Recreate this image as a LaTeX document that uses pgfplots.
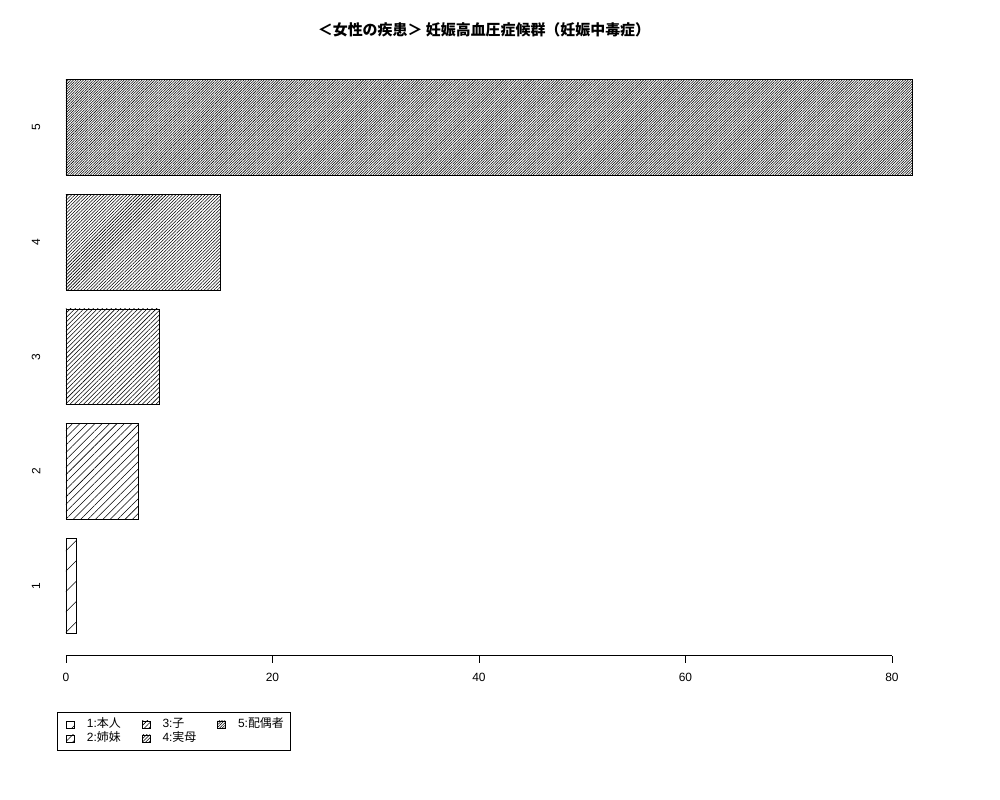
\documentclass[border=0pt]{standalone}
\usepackage{fontspec}
\setmainfont{Liberation Sans}
\newfontfamily\cjk{Noto Sans CJK JP}
\usepackage{pgfplots}
\pgfplotsset{compat=1.18}
\usetikzlibrary{patterns.meta}

\pgfplotsset{
  keyimg/.style={legend image code/.code={%
    \path (0bp,0bp);
    \draw[##1,line width=0.6bp] (5bp,-3.5bp) rectangle (13bp,3.5bp);}},
  hbar/.style={draw=black, line width=0.7bp, keyimg,
    pattern={Lines[angle=45,distance=#1,line width=0.55bp]}},
}

\begin{document}
\begin{tikzpicture}
\path[use as bounding box] (0bp,0bp) rectangle (1000bp,800bp);
\begin{axis}[
  at={(32.1bp,144.3bp)}, anchor=south west,
  scale only axis, width=914.4bp, height=598bp,
  xmin=-3.28, xmax=85.28, ymin=0.39, ymax=5.61,
  clip=false,
  axis line style={draw=none},
  xbar, bar width=0.8333, /pgf/bar shift=0pt,
  xtick={0,20,40,60,80},
  ytick={1,2,3,4,5},
  xtick pos=left, ytick pos=left,
  tick align=outside,
  major tick length=7bp,
  xtick style={black, line width=0.7bp},
  ytick style={draw=none},
  /pgf/number format/assume math mode=true,
  ticklabel style={font=\fontsize{12}{14}\selectfont},
  xticklabel style={yshift=-7bp},
  yticklabel style={rotate=90, anchor=center, yshift=-11bp},
  legend columns=3,
  legend cell align=left,
  legend style={at={(0.0272,-0.0941)}, anchor=north west,
    draw=black, line width=0.7bp,
    font=\fontsize{12}{14}\selectfont,
    nodes={inner xsep=2bp, inner ysep=0bp, text height=9bp, text depth=3bp},
    /tikz/every odd column/.append style={column sep=10bp},
    /tikz/every even column/.append style={column sep=14bp},
    inner xsep=4bp, inner ysep=6bp, row sep=2bp},
]
\draw[line width=0.7bp] (axis cs:0,0.39) -- (axis cs:80,0.39);

\addplot[hbar=14.4bp] coordinates {(1,1)};
\addlegendentry{1:{\cjk 本人}}
\addplot[hbar=3.2bp] coordinates {(9,3)};
\addlegendentry{3:{\cjk 子}}
\addplot[hbar=1.8bp] coordinates {(82,5)};
\addlegendentry{5:{\cjk 配偶者}}
\addplot[hbar=5.24bp] coordinates {(7,2)};
\addlegendentry{2:{\cjk 姉妹}}
\addplot[hbar=2.3bp] coordinates {(15,4)};
\addlegendentry{4:{\cjk 実母}}
\end{axis}
\node[font=\fontsize{15}{17}\selectfont\bfseries\cjk] at (484bp,770bp)
  {＜女性の疾患＞ 妊娠高血圧症候群（妊娠中毒症）};
\end{tikzpicture}
\end{document}
